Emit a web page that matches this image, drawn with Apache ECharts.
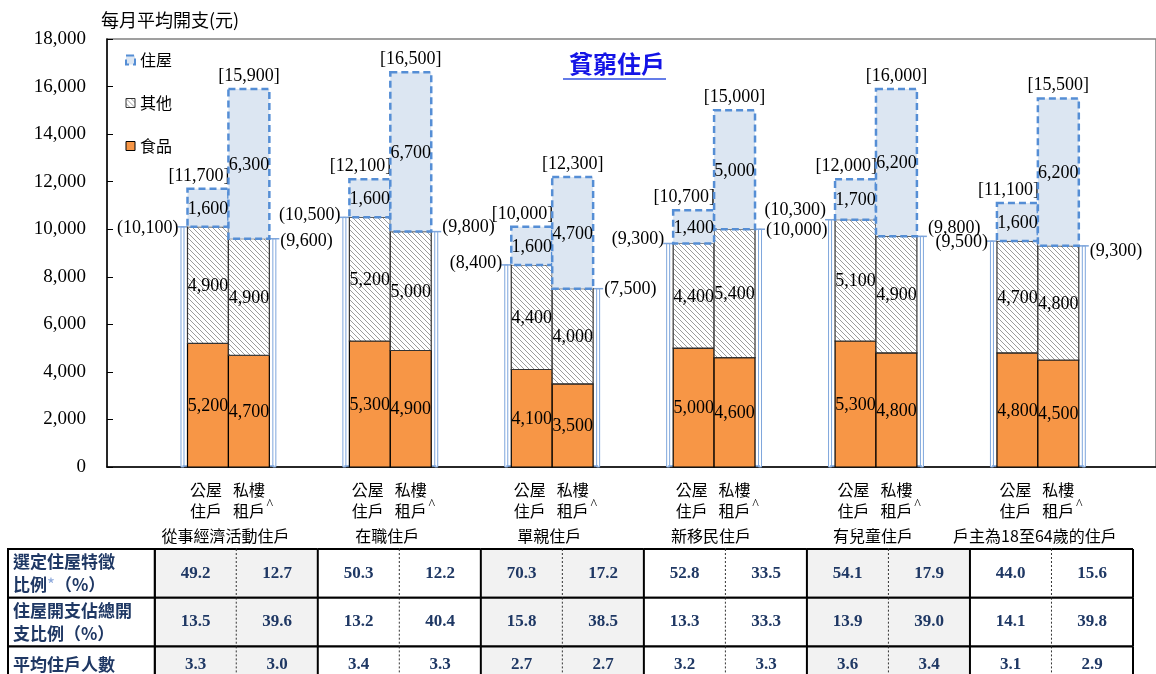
<!DOCTYPE html>
<html><head><meta charset="utf-8">
<script src="https://cdn.jsdelivr.net/npm/echarts@6/dist/echarts.min.js"></script>
<style>html,body{margin:0;padding:0;background:#fff}#c{width:1156px;height:674px}</style>
</head><body><div id="c"></div>
<script>
// ---------- data ----------
const groups = ['從事經濟活動住戶','在職住戶','單親住戶','新移民住戶','有兒童住戶','戶主為18至64歲的住戶'];
const tenureLine1 = ['公屋','私樓'];
const tenureLine2 = ['住戶','租戶'];
const seriesNames = ['住屋','其他','食品'];
const foodPublic     = [5200,5300,4100,5000,5300,4800];
const foodPrivate    = [4700,4900,3500,4600,4800,4500];
const otherPublic    = [4900,5200,4400,4400,5100,4700];
const otherPrivate   = [4900,5000,4000,5400,4900,4800];
const housingPublic  = [1600,1600,1600,1400,1700,1600];
const housingPrivate = [6300,6700,4700,5000,6200,6200];
const subtotalPublic  = [10100,10500,8400,9300,10300,9500];
const subtotalPrivate = [9600,9800,7500,10000,9800,9300];
const totalPublic  = [11700,12100,10000,10700,12000,11100];
const totalPrivate = [15900,16500,12300,15000,16000,15500];
const yTicks = {min:0, max:18000, interval:2000};
const tableRowLabels = ['選定住屋特徵\n比例{s|*}（%）','住屋開支佔總開\n支比例（%）','平均住戶人數'];
const rowSelectedShare = [49.2,12.7,50.3,12.2,70.3,17.2,52.8,33.5,54.1,17.9,44.0,15.6];
const rowHousingShare  = [13.5,39.6,13.2,40.4,15.8,38.5,13.3,33.3,13.9,39.0,14.1,39.8];
const rowHouseholdSize = [3.3,3.0,3.4,3.3,2.7,2.7,3.2,3.3,3.6,3.4,3.1,2.9];

// ---------- layout / style (not data) ----------
// vertical nudges (px) of the bracket labels, to avoid overlaps as in the original
const subLabelDyPublic  = [0,-3,-3,-5,-10,0];
const subLabelDyPrivate = [2,-5,0,0,-9,4];
const SERIF = '"Liberation Serif","Times New Roman",serif';
const CJK = '"Noto Sans CJK TC","Noto Sans CJK SC",sans-serif';
const NAVY = '#1F3864';
const FOOD_C = '#F79646';
const HOUSE_FILL = '#DCE6F2';
const HOUSE_LINE = '#558ED5';
const BRACKET_C = '#7EA6DC';
const BAR_W = 0.2528, HALF = 0.1264;
const NUM_FS = 18;

function makeHatch(){
  const c = document.createElement('canvas'); c.width = 5; c.height = 5;
  const g = c.getContext('2d');
  g.fillStyle = '#ffffff'; g.fillRect(0,0,5,5);
  g.strokeStyle = '#9c9c9c'; g.lineWidth = 1;
  g.beginPath();
  g.moveTo(0,0); g.lineTo(5,5);
  g.moveTo(-1,4); g.lineTo(1,6);
  g.moveTo(4,-1); g.lineTo(6,1);
  g.stroke();
  return c;
}
const hatchFill = {image: makeHatch(), repeat: 'repeat'};
const fmt = v => Number(v).toLocaleString('en-US');

// ---------- derived rows ----------
const foodData = [], otherData = [], houseData = [], bracketData = [];
for (let i = 0; i < groups.length; i++) {
  [[foodPublic, otherPublic, housingPublic, subtotalPublic, totalPublic, subLabelDyPublic],
   [foodPrivate, otherPrivate, housingPrivate, subtotalPrivate, totalPrivate, subLabelDyPrivate]].forEach((arr, side) => {
    const f = arr[0][i], o = arr[1][i], h = arr[2][i];
    foodData.push([i, side, 0, f, f]);
    otherData.push([i, side, f, f + o, o]);
    houseData.push([i, side, f + o, f + o + h, h]);
    bracketData.push([i, side, f + o, f + o + h, arr[3][i], arr[4][i], arr[5][i]]);
  });
}

function segment(fill, stroke, lineWidth, dash){
  return function(params, api){
    const i = api.value(0), side = api.value(1);
    const xc = i + (side === 0 ? -HALF : HALF);
    const p0 = api.coord([xc, api.value(2)]);
    const p1 = api.coord([xc, api.value(3)]);
    const w = api.size([BAR_W, 0])[0];
    return {type:'group', children:[
      {type:'rect', shape:{x:p0[0]-w/2, y:p1[1], width:w, height:p0[1]-p1[1]},
       style:{fill:fill, stroke:stroke, lineWidth:lineWidth, lineDash:dash}},
      {type:'text', x:p0[0], y:(p0[1]+p1[1])/2 + 1, z2:10,
       style:{text:fmt(api.value(4)), fill:'#000', fontSize:NUM_FS, fontFamily:SERIF, align:'center', verticalAlign:'middle'}}
    ]};
  };
}

function bracketRender(params, api){
  const i = api.value(0), side = api.value(1);
  const xc = i + (side === 0 ? -HALF : HALF);
  const w = api.size([BAR_W, 0])[0];
  const base = api.coord([xc, 0]);
  const sub = api.coord([xc, api.value(2)]);
  const top = api.coord([xc, api.value(3)]);
  const dir = side === 0 ? -1 : 1;
  const edge = base[0] + dir * w / 2;
  const lx = edge + dir * 5;
  const children = [
    {type:'rect', shape:{x: lx - 1.5, y: sub[1], width: 3, height: base[1] - sub[1]},
     style:{fill:'#fff', stroke:BRACKET_C, lineWidth:1}},
    {type:'line', shape:{x1: edge, y1: sub[1], x2: edge + dir*10, y2: sub[1]}, style:{stroke:BRACKET_C, lineWidth:1.5}},
    {type:'line', shape:{x1: edge, y1: base[1]-1, x2: lx, y2: base[1]-1}, style:{stroke:BRACKET_C, lineWidth:1.5}},
    {type:'text', x: edge + dir*(side === 0 ? 9 : 11), y: sub[1] + 1 + api.value(6),
     style:{text:'(' + fmt(api.value(4)) + ')', fill:'#000', fontSize:NUM_FS, fontFamily:SERIF,
            align: side === 0 ? 'right' : 'left', verticalAlign:'middle'}},
    side === 0
      ? {type:'text', x: base[0] + w/2 + 1, y: top[1] - 4,
         style:{text:'[' + fmt(api.value(5)) + ']', fill:'#000', fontSize:NUM_FS, fontFamily:SERIF, align:'right', verticalAlign:'bottom'}}
      : {type:'text', x: top[0], y: top[1] - 4,
         style:{text:'[' + fmt(api.value(5)) + ']', fill:'#000', fontSize:NUM_FS, fontFamily:SERIF, align:'center', verticalAlign:'bottom'}}
  ];
  return {type:'group', children};
}

function xLabelRender(params, api){
  const i = api.value(0);
  const l = api.coord([i - HALF, 0]), r = api.coord([i + HALF, 0]), c = api.coord([i, 0]);
  const st = (t, x, y, extra) => ({type:'text', x, y, style:Object.assign({text:t, fill:'#000', fontSize:16, fontFamily:CJK, align:'center', verticalAlign:'middle'}, extra||{})});
  return {type:'group', children:[
    st(tenureLine1[0], l[0] - 2, c[1]+23), st(tenureLine1[1], r[0], c[1]+23),
    st(tenureLine2[0], l[0] - 2, c[1]+44), st(tenureLine2[1], r[0], c[1]+44),
    st('^', r[0]+21, c[1]+38, {fontSize:14, fontFamily:SERIF}),
    st(groups[i], c[0] - 3, c[1]+69)
  ]};
}

// table
const tableRows = [rowSelectedShare, rowHousingShare, rowHouseholdSize];
const cellData = [];
tableRows.forEach((row, r) => row.forEach((v, c) => cellData.push([c, r, v])));
const HEAD_W = 1.8;
const ROW_PX = 48.7, TABLE_TOP = 549;
const tableVisibleRows = (674 - TABLE_TOP) / ROW_PX;

function cellRender(params, api){
  const c = api.value(0), r = api.value(1), v = api.value(2);
  const p0 = api.coord([c, r]), p1 = api.coord([c + 1, r + 1]);
  const grey = Math.floor(c / 2) % 2 === 0;
  const ch = [
    {type:'rect', shape:{x:p0[0], y:p0[1], width:p1[0]-p0[0], height:p1[1]-p0[1]}, style:{fill: grey ? '#F2F2F2' : '#FFFFFF'}},
    {type:'line', shape:{x1:p0[0], y1:p0[1], x2:p0[0], y2:p1[1]},
     style: c % 2 === 0 ? {stroke:'#000', lineWidth:2} : {stroke:'#333', lineWidth:1, lineDash:[2,2]}},
    {type:'line', shape:{x1:p0[0], y1:p0[1], x2:p1[0], y2:p0[1]}, style:{stroke:'#000', lineWidth:2}},
    {type:'line', shape:{x1:p0[0], y1:p1[1], x2:p1[0], y2:p1[1]}, style:{stroke:'#000', lineWidth:2}},
    {type:'text', x:(p0[0]+p1[0])/2, y:(p0[1]+p1[1])/2 + (r === 2 ? -6 : 0),
     style:{text: v.toFixed(1), fill:NAVY, fontSize:17, fontWeight:'bold', fontFamily:SERIF, align:'center', verticalAlign:'middle'}}
  ];
  if (c === 11) ch.push({type:'line', shape:{x1:p1[0], y1:p0[1], x2:p1[0], y2:p1[1]}, style:{stroke:'#000', lineWidth:2}});
  return {type:'group', children:ch};
}
function headRender(params, api){
  const r = api.value(0);
  const p0 = api.coord([-HEAD_W, r]), p1 = api.coord([0, r + 1]);
  return {type:'group', children:[
    {type:'rect', shape:{x:p0[0], y:p0[1], width:p1[0]-p0[0], height:p1[1]-p0[1]}, style:{fill:'#fff', stroke:'#000', lineWidth:2}},
    {type:'text', x:p0[0] + 5, y: r === 2 ? p0[1] + 18 : (p0[1]+p1[1])/2,
     style:{text: tableRowLabels[r], fill:NAVY, fontSize:17, fontWeight:'bold', fontFamily:CJK, lineHeight:23,
            align:'left', verticalAlign:'middle', rich:{s:{fill:'#8EA9DB', fontSize:17, fontFamily:CJK}}}}
  ]};
}

const chart = echarts.init(document.getElementById('c'));
const plotW = 1156 - 107 + 2;
const xMin = -0.75, xMax = xMin + plotW / 162.2;
chart.setOption({
  animation:false,
  backgroundColor:'#fff',
  grid:[
    {left:107, top:39, right:-2, height:428, show:true, borderColor:'#808080', borderWidth:1.5},
    {left:8, top:TABLE_TOP, right:23, bottom:0}
  ],
  xAxis:[
    {type:'value', gridIndex:0, min:xMin, max:xMax, axisLabel:{show:false}, axisTick:{show:false}, splitLine:{show:false},
     axisLine:{show:true, onZero:false, lineStyle:{color:'#000', width:1.5}}},
    {type:'value', gridIndex:1, min:-HEAD_W, max:12, show:false}
  ],
  yAxis:[
    {type:'value', gridIndex:0, min:yTicks.min, max:yTicks.max, interval:yTicks.interval,
     name:'每月平均開支(元)', nameLocation:'end', nameGap:10,
     nameTextStyle:{color:'#000', fontSize:18, fontFamily:CJK, align:'left', padding:[0,0,0,-6]},
     axisLine:{show:true, onZero:false, lineStyle:{color:'#000', width:1.5}},
     axisTick:{show:true, inside:true, length:6, lineStyle:{color:'#000'}},
     splitLine:{show:false},
     axisLabel:{color:'#000', fontSize:19, fontFamily:SERIF, margin:21, formatter:v => fmt(v)}},
    {type:'value', gridIndex:1, min:0, max:tableVisibleRows, inverse:true, show:false}
  ],
  title:{text:'貧窮住戶', left:564, top:47, textStyle:{color:'#1414E6', fontSize:24, fontWeight:'bold', fontFamily:CJK}},
  graphic:[{type:'line', shape:{x1:563, y1:79, x2:666, y2:79}, style:{stroke:'#3050E0', lineWidth:1.5}}],
  legend:{orient:'vertical', left:120, top:47, itemWidth:9, itemHeight:9, itemGap:27, selectedMode:false,
    textStyle:{color:'#000', fontSize:16, fontFamily:CJK},
    data:[
      {name:seriesNames[0], icon:'rect', itemStyle:{color:HOUSE_FILL, borderColor:HOUSE_LINE, borderWidth:2, borderType:'dashed'}},
      {name:seriesNames[1], icon:'rect', itemStyle:{color:hatchFill, borderColor:'#333', borderWidth:1}},
      {name:seriesNames[2], icon:'rect', itemStyle:{color:FOOD_C, borderColor:'#000', borderWidth:1}}
    ]},
  series:[
    {type:'custom', name:'bracket', xAxisIndex:0, yAxisIndex:0, clip:false, data:bracketData, renderItem:bracketRender, z:1},
    {type:'custom', name:seriesNames[2], xAxisIndex:0, yAxisIndex:0, clip:false, data:foodData, itemStyle:{color:FOOD_C},
     renderItem:segment(FOOD_C, '#000', 1.2, null), z:2},
    {type:'custom', name:seriesNames[1], xAxisIndex:0, yAxisIndex:0, clip:false, data:otherData, itemStyle:{color:'#ddd'},
     renderItem:segment(hatchFill, '#333', 1.2, null), z:2},
    {type:'custom', name:seriesNames[0], xAxisIndex:0, yAxisIndex:0, clip:false, data:houseData, itemStyle:{color:HOUSE_FILL},
     renderItem:segment(HOUSE_FILL, HOUSE_LINE, 2.5, [7,4]), z:3},
    {type:'custom', name:'xlabels', xAxisIndex:0, yAxisIndex:0, clip:false, data:groups.map((g,i)=>[i,0]), renderItem:xLabelRender},
    {type:'custom', name:'cells', xAxisIndex:1, yAxisIndex:1, clip:false, data:cellData, renderItem:cellRender},
    {type:'custom', name:'heads', xAxisIndex:1, yAxisIndex:1, clip:false, data:tableRowLabels.map((t,r)=>[r]), renderItem:headRender}
  ]
});
</script></body></html>
